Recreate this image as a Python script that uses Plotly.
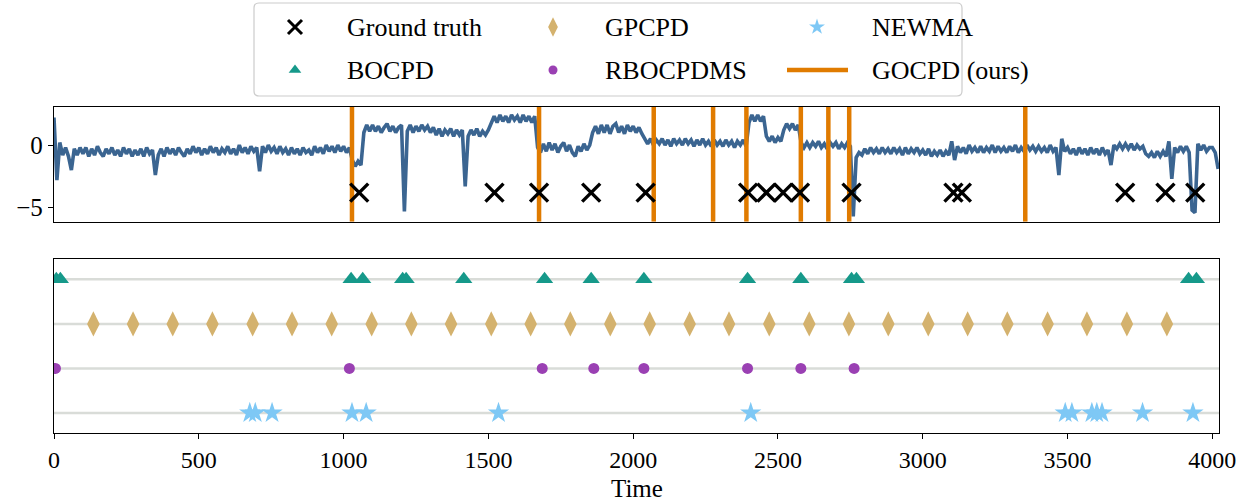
import plotly.graph_objects as go

# ---------------- data ----------------
signal_step = 10
signal_values = [
    2.2, -2.8, 0.2, -0.8, -0.2, -0.9, -2.0, -0.3, -0.8, -0.2,
    -0.7, -0.2, -0.9, -0.3, -0.8, -0.1, -0.6, -0.9, -0.3, -0.7,
    -0.2, -0.8, -0.4, -0.9, -0.2, -0.7, -0.3, -0.9, -0.4, -0.8,
    -0.3, -0.9, -0.2, -0.7, -0.4, -2.4, -0.8, -0.3, -0.9, -0.2,
    -0.7, -0.3, -0.8, -0.2, -0.6, -0.9, -0.3, -0.7, -0.1, -0.6,
    -0.2, -0.8, -0.3, -0.7, -0.1, -0.6, -0.2, -0.8, -0.3, -0.6,
    -0.1, -0.7, -0.3, -0.8, 0.0, -0.6, -0.2, -0.7, -0.1, -0.5,
    -0.2, -2.1, -0.1, -0.6, 0.0, -0.5, -0.2, -0.7, -0.1, -0.6,
    -0.3, -0.8, -0.2, -0.7, -0.3, -0.8, -0.2, -0.6, -0.4, -0.8,
    -0.1, -0.6, -0.2, -0.7, 0.0, -0.5, -0.1, -0.6, 0.0, -0.5,
    -0.1, -0.6, -0.2, -1.2, -1.7, -1.3, -1.6, 1.0, 1.6, 1.1,
    1.6, 1.1, 1.5, 1.0, 1.4, 1.7, 1.1, 1.5, 1.0, 1.4,
    1.6, -5.3, 1.1, 1.6, 1.0, 1.5, 1.1, 1.6, 1.2, 1.5,
    1.0, 1.4, 0.8, 1.3, 0.7, 1.2, 0.9, 1.3, 0.7, 1.2,
    0.8, 1.2, -3.3, 0.7, 1.2, 0.8, 1.3, 0.7, 1.1, 0.8,
    1.2, 1.8, 2.3, 1.8, 2.4, 1.9, 2.3, 1.8, 2.4, 2.0,
    2.3, 1.8, 2.4, 1.9, 2.3, 1.8, 2.3, -0.2, -0.6, 0.1,
    -0.5, 0.2, -0.4, 0.1, -0.6, -0.1, 0.2, -0.5, 0.0, -0.6,
    -0.9, -0.1, -0.5, 0.1, -0.4, 0.0, 1.0, 1.5, 0.9, 1.6,
    1.0, 1.6, 0.9, 1.5, 1.7, 1.0, 1.5, 0.9, 1.6, 1.1,
    1.5, 1.0, 1.4, 0.9, 0.5, 0.1, 0.5, 0.0, 0.4, 0.1,
    0.5, 0.0, 0.4, -0.1, 0.5, 0.1, 0.4, 0.0, 0.5, 0.1,
    0.4, -0.1, 0.4, 0.0, 0.5, 0.0, 0.3, -0.1, 0.4, 0.0,
    0.3, -0.1, 0.4, 0.0, 0.3, -0.2, 0.3, 0.0, 0.4, -0.1,
    1.8, 2.4, 1.9, 2.4, 1.9, 2.3, 0.7, 0.3, 0.7, 0.2,
    0.6, 0.3, 1.2, 1.7, 1.3, 1.7, 1.2, 1.6, 0.2, -0.2,
    0.2, -0.2, 0.2, -0.1, 0.3, -0.2, 0.1, -0.3, 0.2, -0.1,
    0.2, -0.3, 0.1, -0.2, 0.2, -0.1, -5.7, -1.0, -0.6, -0.8,
    -0.3, -0.7, -0.2, -0.6, -0.3, -0.7, -0.2, -0.6, -0.3, -0.7,
    -0.2, -0.6, -0.3, -0.8, -0.2, -0.7, -0.3, -0.6, -0.2, -0.7,
    -0.4, -0.8, -0.3, -0.9, -0.5, -0.8, -0.4, -0.9, -0.5, -0.8,
    0.3, -1.2, -0.1, -0.6, -0.2, -0.7, 0.0, -0.5, -0.2, -0.6,
    -0.1, -0.6, -0.2, -0.5, 0.0, -0.6, -0.1, -0.5, -0.2, -0.6,
    -0.1, -0.5, 0.0, -0.6, -0.2, -0.5, 0.0, -0.4, -0.1, -0.5,
    -0.1, -0.5, -0.2, -0.6, 0.0, -0.5, -0.2, -2.4, 0.5, -0.5,
    -0.2, -0.7, -0.3, -0.8, -0.2, -0.7, -0.3, -0.8, -0.2, -0.7,
    -0.3, -0.8, -0.2, -0.7, -0.4, -1.6, 0.0, -0.3, 0.1, -0.3,
    0.1, -0.3, 0.1, -0.4, 0.0, -0.3, -0.1, -0.7, -0.9, -0.6,
    -1.0, -0.5, -0.9, -0.5, -0.9, 0.3, -2.7, -0.2, -0.6, -0.1,
    -0.5, -0.1, -0.6, -5.2, -5.4, 0.1, -0.4, 0.0, -0.5, -0.2,
    -0.2, -0.6, -1.9,
]
signal_time = [i * signal_step for i in range(len(signal_values))]

ground_truth = [1054, 1521, 1675, 1855, 2043, 2397, 2460, 2518, 2576, 2754,
                3106, 3135, 3699, 3838, 3941]
gocpd = [1029, 1675, 2071, 2276, 2391, 2579, 2674, 2746, 3354]
bocpd = [8, 22, 1026, 1066, 1204, 1216, 1415, 1694, 1855, 2037, 2395, 2579,
         2754, 2771, 3918, 3945]
gpcpd = [136, 273, 410, 547, 686, 822, 959, 1097, 1234, 1371, 1510, 1646,
         1783, 1921, 2057, 2195, 2331, 2470, 2608, 2745, 2881, 3019, 3155,
         3292, 3431, 3567, 3705, 3843]
rbocpdms = [5, 1020, 1686, 1864, 2037, 2395, 2579, 2763]
newma = [676, 695, 753, 1029, 1078, 1535, 2406, 3492, 3515, 3584, 3601, 3619,
         3759, 3933]

method_rows = {"BOCPD": 3, "GPCPD": 2, "RBOCPDMS": 1, "NEWMA": 0}
gt_marker_level = -3.8
x_ticks = [0, 500, 1000, 1500, 2000, 2500, 3000, 3500, 4000]

# ---------------- style ----------------
FONT = "Liberation Serif"
C_SIG = "#3B6591"
C_ORANGE = "#E07B00"
C_TEAL = "#16998A"
C_TAN = "#D4B26E"
C_PURPLE = "#9A40B3"
C_BLUE = "#7EC8F5"
C_GRID = "#D9DCD8"

W, H = 1246, 502
ML, MR, MT, MB = 54, 27, 0, 69
PW, PH = W - ML - MR, H - MT - MB

def fy(py):  # pixel y -> fraction of plot area
    return (PH - py) / PH

XR = [0, 4023]
TOP_YR = [-6.12, 3.06]

fig = go.Figure()

# top panel: signal
fig.add_trace(go.Scatter(x=signal_time, y=signal_values, mode="lines",
                         line=dict(color=C_SIG, width=3.6),
                         xaxis="x2", yaxis="y2", showlegend=False,
                         hoverinfo="skip"))
# GOCPD vertical lines
gx, gy = [], []
for t in gocpd:
    gx += [t, t, None]
    gy += [TOP_YR[0], TOP_YR[1], None]
fig.add_trace(go.Scatter(x=gx, y=gy, mode="lines",
                         line=dict(color=C_ORANGE, width=4.5),
                         xaxis="x2", yaxis="y2", showlegend=False))
# ground truth
fig.add_trace(go.Scatter(x=ground_truth, y=[gt_marker_level] * len(ground_truth),
                         mode="markers",
                         marker=dict(symbol="x-thin", size=18,
                                     line=dict(color="black", width=3.4)),
                         xaxis="x2", yaxis="y2", showlegend=False))

# bottom panel
def method_trace(xs, row, symbol, color, size):
    return go.Scatter(x=xs, y=[row] * len(xs), mode="markers",
                      marker=dict(symbol=symbol, size=size, color=color,
                                  line=dict(width=0)),
                      xaxis="x", yaxis="y", showlegend=False)

fig.add_trace(method_trace(bocpd, method_rows["BOCPD"], "triangle-up", C_TEAL, 15))
fig.add_trace(method_trace(gpcpd, method_rows["GPCPD"], "diamond-tall", C_TAN, 18))
fig.add_trace(method_trace(rbocpdms, method_rows["RBOCPDMS"], "circle", C_PURPLE, 11))
fig.add_trace(method_trace(newma, method_rows["NEWMA"], "star", C_BLUE, 16))

shapes = []
for name, row in method_rows.items():
    shapes.append(dict(type="line", xref="x domain", yref="y", x0=0, x1=1,
                       y0=row, y1=row, line=dict(color=C_GRID, width=2.5),
                       layer="below"))

# ---------------- manual legend ----------------
leg_x = [295, 553, 817]
leg_text_x = [345, 603, 870]
leg_y = [27, 70]
leg_entries = [
    ("Ground truth", 0, 0, dict(symbol="x-thin", size=14, line=dict(color="black", width=3))),
    ("BOCPD", 0, 1, dict(symbol="triangle-up", size=11, color=C_TEAL)),
    ("GPCPD", 1, 0, dict(symbol="diamond-tall", size=14, color=C_TAN)),
    ("RBOCPDMS", 1, 1, dict(symbol="circle", size=9, color=C_PURPLE)),
    ("NEWMA", 2, 0, dict(symbol="star", size=12, color=C_BLUE)),
]
for name, c, r, mk in leg_entries:
    fig.add_trace(go.Scatter(x=[leg_x[c]], y=[leg_y[r]], mode="markers",
                             marker=mk, xaxis="x3", yaxis="y3",
                             showlegend=False, hoverinfo="skip"))
fig.add_trace(go.Scatter(x=[787, 848], y=[leg_y[1], leg_y[1]], mode="lines",
                         line=dict(color=C_ORANGE, width=4.5),
                         xaxis="x3", yaxis="y3", showlegend=False,
                         hoverinfo="skip"))

annotations = []
leg_labels = [("Ground truth", 0, 0), ("BOCPD", 0, 1), ("GPCPD", 1, 0),
              ("RBOCPDMS", 1, 1), ("NEWMA", 2, 0), ("GOCPD (ours)", 2, 1)]
for name, c, r in leg_labels:
    annotations.append(dict(text=name, x=leg_text_x[c], y=leg_y[r],
                            xref="x3", yref="y3", xanchor="left",
                            yanchor="middle", showarrow=False,
                            font=dict(family=FONT, size=26, color="black")))

# legend frame (rounded)
x0, x1, y0, y1, rr = 254, 962, 3, 96, 5
def px2paper_x(px):
    return (px - ML) / PW
def py2paper_y(py):
    return (PH + MT - py) / PH
path = (f"M {px2paper_x(x0+rr)},{py2paper_y(y0)} L {px2paper_x(x1-rr)},{py2paper_y(y0)} "
        f"Q {px2paper_x(x1)},{py2paper_y(y0)} {px2paper_x(x1)},{py2paper_y(y0+rr)} "
        f"L {px2paper_x(x1)},{py2paper_y(y1-rr)} "
        f"Q {px2paper_x(x1)},{py2paper_y(y1)} {px2paper_x(x1-rr)},{py2paper_y(y1)} "
        f"L {px2paper_x(x0+rr)},{py2paper_y(y1)} "
        f"Q {px2paper_x(x0)},{py2paper_y(y1)} {px2paper_x(x0)},{py2paper_y(y1-rr)} "
        f"L {px2paper_x(x0)},{py2paper_y(y0+rr)} "
        f"Q {px2paper_x(x0)},{py2paper_y(y0)} {px2paper_x(x0+rr)},{py2paper_y(y0)} Z")
shapes.append(dict(type="path", xref="paper", yref="paper", path=path,
                   line=dict(color="#CCCCCC", width=1.2), fillcolor="rgba(255,255,255,0.8)",
                   layer="below"))

annotations.append(dict(text="Time", x=0.5, y=py2paper_y(488), xref="paper", yref="paper",
                        xanchor="center", yanchor="middle", showarrow=False,
                        font=dict(family=FONT, size=25, color="black")))

axis_common = dict(showgrid=False, zeroline=False, showline=True, linecolor="black",
                   linewidth=1.3, mirror=True)

fig.update_layout(
    width=W, height=H,
    margin=dict(l=ML, r=MR, t=MT, b=MB),
    paper_bgcolor="white", plot_bgcolor="rgba(0,0,0,0)",
    font=dict(family=FONT, size=24, color="black"),
    showlegend=False,
    shapes=shapes, annotations=annotations,
    xaxis=dict(domain=[0, 1], range=XR, tickvals=x_ticks,
               ticks="outside", ticklen=5, tickwidth=1.2, tickcolor="black",
               tickfont=dict(family=FONT, size=24), anchor="y", **axis_common),
    yaxis=dict(domain=[0, fy(259.3)], range=[-0.45, 3.45], showticklabels=False,
               ticks="", anchor="x", **axis_common),
    xaxis2=dict(domain=[0, 1], range=XR, showticklabels=False, ticks="",
                anchor="y2", **axis_common),
    yaxis2=dict(domain=[fy(221.7), fy(106.7)], range=TOP_YR, tickvals=[0, -5],
                ticks="outside", ticklen=5, tickwidth=1.2, tickcolor="black",
                tickfont=dict(family=FONT, size=25), anchor="x2", **axis_common),
    xaxis3=dict(domain=[0, 1], range=[ML, ML + PW], visible=False, anchor="y3"),
    yaxis3=dict(domain=[0, 1], range=[PH, 0], visible=False, anchor="x3"),
)

fig.write_html("out.html")
